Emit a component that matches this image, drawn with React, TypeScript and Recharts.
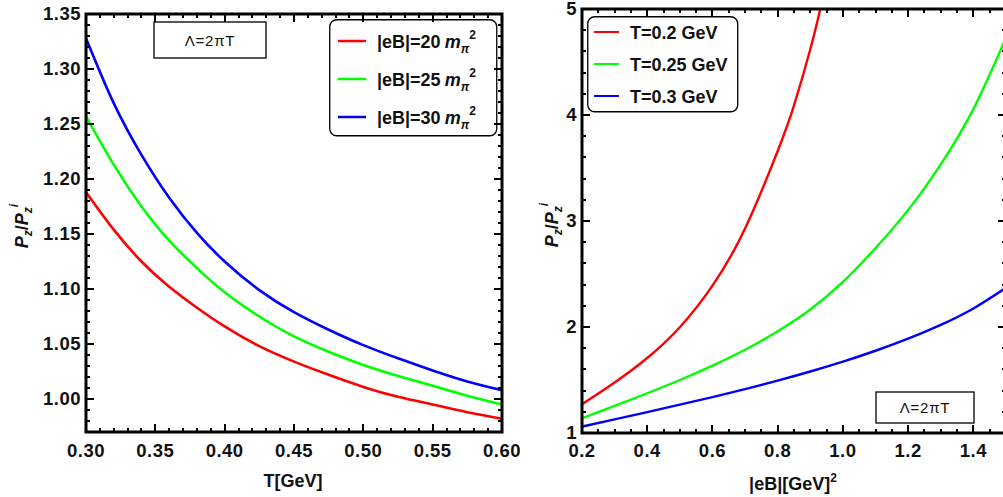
import React from "react";
import { LineChart, Line, XAxis, YAxis, Legend } from "recharts";

// left panel: P_z/P_z^i vs T for three field strengths
const tempT = [0.3, 0.32, 0.34, 0.36, 0.38, 0.4, 0.425, 0.45, 0.475, 0.5, 0.525, 0.55, 0.575, 0.6];
const ratioEB20 = [1.188, 1.154, 1.125, 1.102, 1.083, 1.066, 1.048, 1.034, 1.022, 1.011, 1.002, 0.995, 0.988, 0.982];
const ratioEB25 = [1.257, 1.213, 1.175, 1.144, 1.119, 1.097, 1.075, 1.057, 1.043, 1.031, 1.021, 1.012, 1.003, 0.995];
const ratioEB30 = [1.328, 1.269, 1.222, 1.183, 1.151, 1.125, 1.099, 1.079, 1.063, 1.049, 1.037, 1.026, 1.016, 1.008];
const leftXMajor = [0.3, 0.35, 0.4, 0.45, 0.5, 0.55, 0.6];
const leftYMajor = [1.0, 1.05, 1.1, 1.15, 1.2, 1.25, 1.3, 1.35];

// right panel: P_z/P_z^i vs |eB| for three temperatures
const eBRed = [0.2, 0.3, 0.4, 0.5, 0.6, 0.7, 0.8, 0.85, 0.9, 0.93];
const ratioT020 = [1.272, 1.477, 1.708, 1.998, 2.39, 2.93, 3.66, 4.09, 4.62, 4.99];
const eBAll = [0.2, 0.3, 0.4, 0.5, 0.6, 0.7, 0.8, 0.9, 1.0, 1.1, 1.2, 1.3, 1.4, 1.5];
const ratioT025 = [1.14, 1.255, 1.375, 1.5, 1.635, 1.785, 1.96, 2.165, 2.425, 2.745, 3.105, 3.535, 4.055, 4.73];
const ratioT030 = [1.06, 1.128, 1.197, 1.267, 1.339, 1.414, 1.494, 1.58, 1.673, 1.776, 1.89, 2.02, 2.175, 2.37];
const rightXMajor = [0.2, 0.4, 0.6, 0.8, 1.0, 1.2, 1.4];
const rightYMajor = [1, 2, 3, 4, 5];

const FONT = "'Liberation Sans', Arial, Helvetica, sans-serif";

const leftData = tempT.map((t, i) => ({
  t,
  eb20: ratioEB20[i],
  eb25: ratioEB25[i],
  eb30: ratioEB30[i],
}));
const redData = eBRed.map((x, i) => ({ x, y: ratioT020[i] }));
const greenData = eBAll.map((x, i) => ({ x, y: ratioT025[i] }));
const blueData = eBAll.map((x, i) => ({ x, y: ratioT030[i] }));

function steps(from: number, to: number, step: number) {
  const out: number[] = [];
  const n = Math.round((to - from) / step);
  for (let i = 0; i <= n; i++) out.push(Math.round((from + i * step) * 1000) / 1000);
  return out;
}

const isMajor = (v: number, majors: number[]) => majors.some((m) => Math.abs(m - v) < 1e-6);

// plot boxes (page px), they follow from the chart sizes/margins below
const LEFT_BOX = { x0: 86, x1: 502, y0: 14, y1: 432 };
const RIGHT_BOX = { x0: 582, x1: 1006, y0: 9, y1: 433 };

function makeLabel(side: string, majors: number[], fmt: (v: number) => string, dyLabel = 0) {
  return (props: any) => {
    const x = Number(props.x);
    const y = Number(props.y);
    const v = props.payload.value;
    if (!isMajor(v, majors)) return <g />;
    if (side === "bottom")
      return (
        <text x={x} y={y + dyLabel} textAnchor="middle" fontFamily={FONT} fontWeight="bold" fontSize={18.5} letterSpacing={0.5} fill="#111">
          {fmt(v)}
        </text>
      );
    return (
      <text x={x - 5} y={y + 6} textAnchor="end" fontFamily={FONT} fontWeight="bold" fontSize={18.5} letterSpacing={0.5} fill="#111">
        {fmt(v)}
      </text>
    );
  };
}

// frame with inward major/minor ticks on all four sides
function Frame({ box, xDom, yDom, xTicks, xMajor, yTicks, yMajor }: any) {
  const { x0, x1, y0, y1 } = box;
  const px = (v: number) => Math.round(x0 + ((v - xDom[0]) / (xDom[1] - xDom[0])) * (x1 - x0));
  const py = (v: number) => Math.round(y1 - ((v - yDom[0]) / (yDom[1] - yDom[0])) * (y1 - y0));
  const parts: React.ReactElement[] = [];
  xTicks.forEach((v: number) => {
    const m = isMajor(v, xMajor);
    const len = m ? 8 : 4;
    const x = px(v);
    parts.push(<path key={"xb" + v} d={`M${x} ${y1}L${x} ${y1 - len}`} stroke="#000" strokeWidth={2} fill="none" />);
    parts.push(<path key={"xt" + v} d={`M${x} ${y0}L${x} ${y0 + len}`} stroke="#000" strokeWidth={2} fill="none" />);
  });
  yTicks.forEach((v: number) => {
    const m = isMajor(v, yMajor);
    const len = m ? 8 : 4;
    const y = py(v);
    parts.push(<path key={"yl" + v} d={`M${x0} ${y}L${x0 + len} ${y}`} stroke="#000" strokeWidth={2} fill="none" />);
    parts.push(<path key={"yr" + v} d={`M${x1} ${y}L${x1 - len} ${y}`} stroke="#000" strokeWidth={2} fill="none" />);
  });
  return (
    <g>
      <path d={`M${x0} ${y0}L${x1} ${y0}L${x1} ${y1}L${x0} ${y1}Z`} stroke="#000" strokeWidth={3} fill="none" />
      {parts}
    </g>
  );
}

function LeftLegend({ payload }: any) {
  return (
    <svg width={170} height={119} style={{ display: "block" }}>
      <rect x={0.75} y={0.75} width={167} height={116} rx={7} fill="#fff" stroke="#000" strokeWidth={1.3} />
      {(payload || []).map((p: any, i: number) => {
        const cy = 22 + i * 38;
        return (
          <g key={p.value}>
            <line x1={9} x2={37} y1={cy} y2={cy} stroke={p.color} strokeWidth={2.5} />
            <text x={48} y={cy + 7} fontFamily={FONT} fontWeight="bold" fontSize={18} fill="#111">
              {p.value}
              <tspan dx={4} fontStyle="italic">m</tspan>
              <tspan dy={5} fontSize={12} fontStyle="italic">π</tspan>
              <tspan dy={-14} fontSize={12}>2</tspan>
            </text>
          </g>
        );
      })}
    </svg>
  );
}

function RightLegend({ payload }: any) {
  return (
    <svg width={153} height={98} style={{ display: "block" }}>
      <rect x={0.75} y={0.75} width={150} height={95} rx={7} fill="#fff" stroke="#000" strokeWidth={1.3} />
      {(payload || []).map((p: any, i: number) => {
        const cy = 16 + i * 32;
        return (
          <g key={p.value}>
            <line x1={7} x2={32} y1={cy} y2={cy} stroke={p.color} strokeWidth={2} />
            <text x={43} y={cy + 6.5} fontFamily={FONT} fontWeight="bold" fontSize={18} fill="#111">
              {p.value}
            </text>
          </g>
        );
      })}
    </svg>
  );
}

function YTitle({ cx, cy }: { cx: number; cy: number }) {
  return (
    <text
      transform={`translate(${cx},${cy}) rotate(-90)`}
      textAnchor="middle"
      fontFamily={FONT}
      fontWeight="bold"
      fontSize={18}
      fill="#111"
    >
      <tspan fontStyle="italic">P</tspan>
      <tspan dy={4} fontSize={12} fontStyle="italic">z</tspan>
      <tspan dy={-4}>/</tspan>
      <tspan fontStyle="italic">P</tspan>
      <tspan dy={4} fontSize={12} fontStyle="italic">z</tspan>
      <tspan dy={-14} fontSize={12} fontStyle="italic">i</tspan>
    </text>
  );
}

function LambdaBox({ x, y, w, h }: { x: number; y: number; w: number; h: number }) {
  return (
    <g>
      <rect x={x} y={y} width={w} height={h} fill="#fff" stroke="#000" strokeWidth={1.3} />
      <text x={x + w / 2} y={y + h / 2 + 5.5} textAnchor="middle" fontFamily={FONT} fontSize={15} letterSpacing={0.8} fill="#111">
        Λ=2πT
      </text>
    </g>
  );
}

const axisCommon = {
  type: "number" as const,
  allowDataOverflow: true,
  interval: 0 as const,
  tickSize: 0,
  tickMargin: 0,
  tickLine: false,
  axisLine: false,
};

export default function App() {
  const leftXTicks = steps(0.3, 0.6, 0.01);
  const leftYTicks = steps(0.97, 1.35, 0.01);
  const rightXTicks = steps(0.2, 1.5, 0.05);
  const rightYTicks = steps(1, 5, 0.2);

  return (
    <div style={{ position: "fixed", left: 0, top: 0, width: 1003, height: 497, overflow: "hidden", background: "#fff" }}>
      <div style={{ position: "absolute", left: 0, top: 0 }}>
        <LineChart width={520} height={497} data={leftData} margin={{ top: 14, right: 18, bottom: 0, left: 0 }}>
          <XAxis {...axisCommon} dataKey="t" domain={[0.3, 0.6]} ticks={leftXMajor} height={65}
            tick={makeLabel("bottom", leftXMajor, (v) => v.toFixed(2), 25)} />
          <YAxis {...axisCommon} domain={[0.97, 1.35]} ticks={leftYMajor} width={86}
            tick={makeLabel("left", leftYMajor, (v) => v.toFixed(2))} />
          <Line dataKey="eb20" name="|eB|=20" stroke="#ff0000" strokeWidth={2.6} dot={false} type="natural" isAnimationActive={false} />
          <Line dataKey="eb25" name="|eB|=25" stroke="#00ff00" strokeWidth={2.6} dot={false} type="natural" isAnimationActive={false} />
          <Line dataKey="eb30" name="|eB|=30" stroke="#0000ff" strokeWidth={2.6} dot={false} type="natural" isAnimationActive={false} />
          <Legend layout="vertical" align="center" verticalAlign="middle" content={<LeftLegend />}
            wrapperStyle={{ position: "absolute", left: 329, top: 19, width: 170, height: 119 }} />
        </LineChart>
      </div>
      <div style={{ position: "absolute", left: 520, top: 0 }}>
        <LineChart width={496} height={497} margin={{ top: 9, right: 10, bottom: 0, left: 0 }}>
          <XAxis {...axisCommon} dataKey="x" domain={[0.2, 1.5]} ticks={rightXMajor} height={64}
            tick={makeLabel("bottom", rightXMajor, (v) => v.toFixed(1), 24)} />
          <YAxis {...axisCommon} domain={[1, 5]} ticks={rightYMajor} width={62}
            tick={makeLabel("left", rightYMajor, (v) => String(v))} />
          <Line data={redData} dataKey="y" name="T=0.2 GeV" stroke="#ff0000" strokeWidth={2.4} dot={false} type="natural" isAnimationActive={false} />
          <Line data={greenData} dataKey="y" name="T=0.25 GeV" stroke="#00ff00" strokeWidth={2.4} dot={false} type="natural" isAnimationActive={false} />
          <Line data={blueData} dataKey="y" name="T=0.3 GeV" stroke="#0000ff" strokeWidth={2.4} dot={false} type="natural" isAnimationActive={false} />
          <Legend layout="vertical" align="center" verticalAlign="middle" content={<RightLegend />}
            wrapperStyle={{ position: "absolute", left: 67, top: 16, width: 153, height: 98 }} />
        </LineChart>
      </div>
      <svg width={1003} height={497} style={{ position: "absolute", left: 0, top: 0, pointerEvents: "none" }}>
        <Frame box={LEFT_BOX} xDom={[0.3, 0.6]} yDom={[0.97, 1.35]} xTicks={leftXTicks} xMajor={leftXMajor} yTicks={leftYTicks} yMajor={leftYMajor} />
        <Frame box={RIGHT_BOX} xDom={[0.2, 1.5]} yDom={[1, 5]} xTicks={rightXTicks} xMajor={rightXMajor} yTicks={rightYTicks} yMajor={rightYMajor} />
        <LambdaBox x={154} y={22} w={112} h={36} />
        <LambdaBox x={876} y={392} w={98} h={31} />
        <YTitle cx={28} cy={226} />
        <YTitle cx={558} cy={225} />
        <text x={293} y={487} textAnchor="middle" fontFamily={FONT} fontWeight="bold" fontSize={18} fill="#111">
          T[GeV]
        </text>
        <text x={793} y={490} textAnchor="middle" fontFamily={FONT} fontWeight="bold" fontSize={18} fill="#111">
          |eB|[GeV]
          <tspan dy={-8} fontSize={12}>2</tspan>
        </text>
      </svg>
    </div>
  );
}
